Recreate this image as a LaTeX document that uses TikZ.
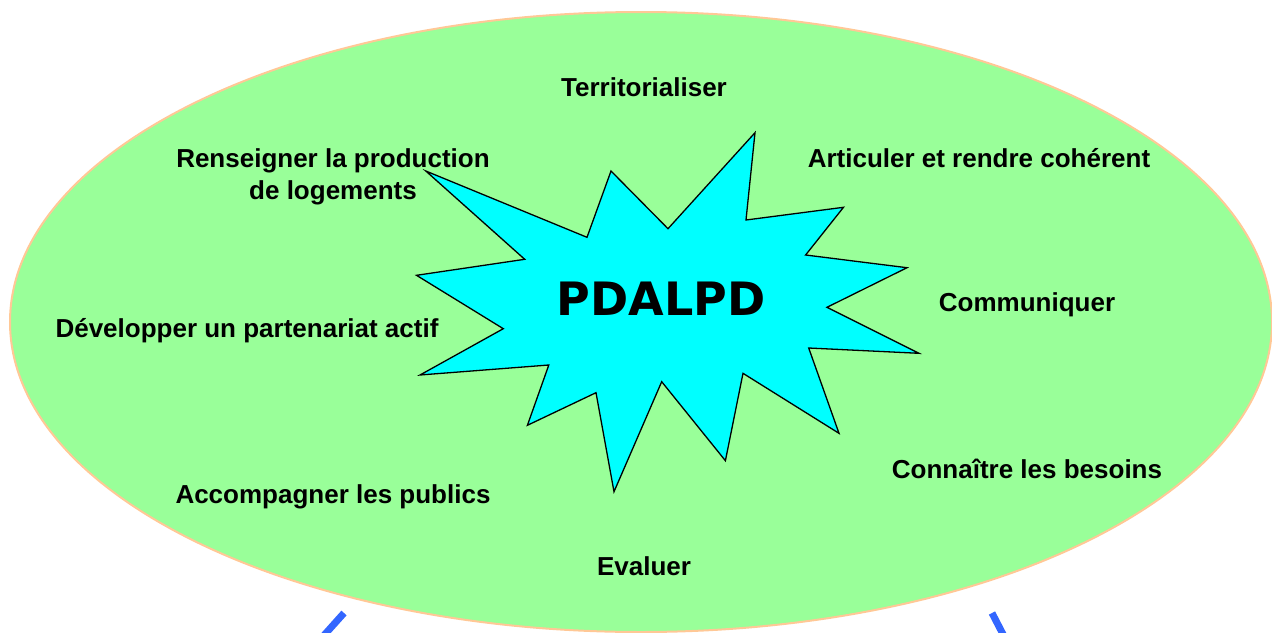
\documentclass[tikz,border=0pt]{standalone}
\usepackage{fontspec}
\setmainfont{Liberation Sans}
\newfontfamily\bigfont{DejaVu Sans}
\usepackage{tikz}

\definecolor{ovalgreen}{RGB}{153,255,153}
\definecolor{ovalrim}{RGB}{255,200,150}
\definecolor{starcyan}{RGB}{0,255,255}
\definecolor{legblue}{RGB}{51,102,255}

\tikzset{
  goal/.style={font=\fontsize{26}{32}\selectfont\bfseries, inner sep=0pt, anchor=base, align=center},
  leg/.style={legblue, line width=7pt}
}

\begin{document}
\begin{tikzpicture}[x=1pt, y=-1pt]
	\useasboundingbox (0,0) rectangle (1272,632);
	\coordinate (l1) at (344,613); \coordinate (l2) at (318,642);
	\coordinate (r1) at (992,613); \coordinate (r2) at (1007,642);
	\draw[leg] (l1) -- (l2);
	\draw[leg] (r1) -- (r2);
	\fill[ovalgreen] (641,322) ellipse (631 and 310);
	\draw[ovalrim, line width=2pt] (641,322) ellipse (631 and 310);
	\draw[fill=starcyan, line width=1.3pt, line join=miter] (755,132.7) -- (746,220) -- (843.5,207.3) -- (805.6,255) -- (907,267.7) -- (827,307.3) -- (919,353.3) -- (808.7,348) -- (839,433.3) -- (743,373.3) -- (725.4,460.7) -- (661.7,381.7) -- (614,491.7) -- (596,392.7) -- (527.4,425.3) -- (548.8,365) -- (420,375) -- (503.3,328.7) -- (416.5,275.3) -- (524.7,259.3) -- (425.8,171) -- (587,237.3) -- (611,171) -- (668,228.7) -- cycle;
	\node[font=\bigfont\fontsize{46}{50}\selectfont\bfseries, inner sep=0pt, anchor=base] (plan) at (661,315) {PDALPD};
	\node[goal] (terr) at (644,96) {Territorialiser};
	\node[goal, anchor=center] (rens) at (333,177) {Renseigner la production\\de logements};
	\node[goal] (arti) at (979,167) {Articuler et rendre cohérent};
	\node[goal] (dev) at (247,337) {Développer un partenariat actif};
	\node[goal] (comm) at (1027,311) {Communiquer};
	\node[goal] (conn) at (1027,478) {Connaître les besoins};
	\node[goal] (acc) at (333,503) {Accompagner les publics};
	\node[goal] (eval) at (644,575) {Evaluer};
\end{tikzpicture}
\end{document}
